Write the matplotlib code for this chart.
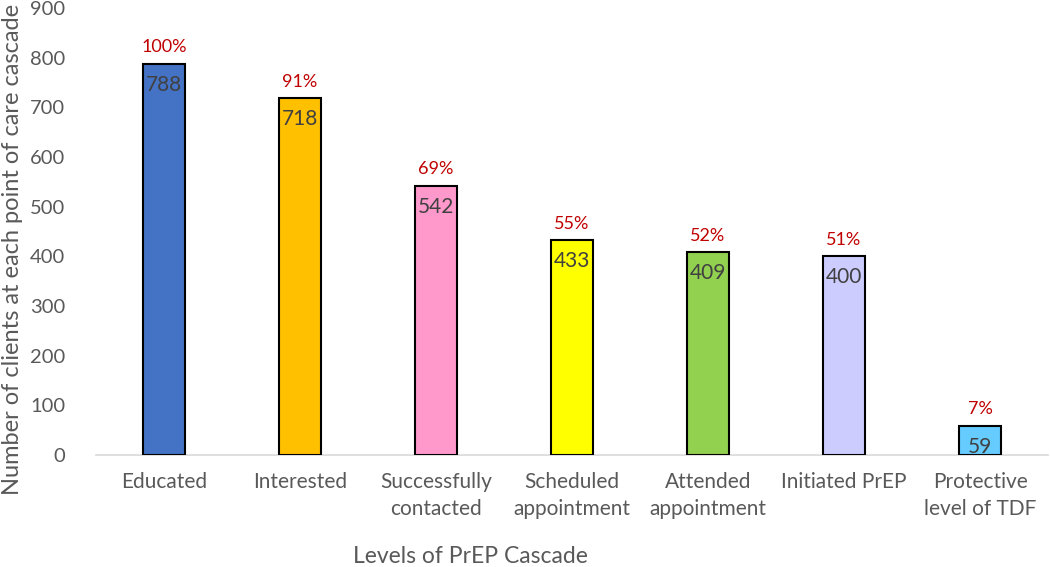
import matplotlib.pyplot as plt

plt.rcParams['font.family'] = ['Lato', 'DejaVu Sans']

# data
levels = ["Educated", "Interested", "Successfully\ncontacted", "Scheduled\nappointment",
          "Attended\nappointment", "Initiated PrEP", "Protective\nlevel of TDF"]
counts = [788, 718, 542, 433, 409, 400, 59]
percents = ["100%", "91%", "69%", "55%", "52%", "51%", "7%"]
colors = ["#4472C4", "#FFC000", "#FF99CC", "#FFFF00", "#92D050", "#CCCCFF", "#66CCFF"]

fig = plt.figure(figsize=(10.5, 5.67), dpi=100)
ax = fig.add_axes([0.0914, 0.1975, 0.9067, 0.7885])

x = range(len(levels))
bars = ax.bar(x, counts, width=0.31, color=colors, edgecolor="black", linewidth=1.5, zorder=3)

for b, c, p in zip(bars, counts, percents):
    cx = b.get_x() + b.get_width() / 2
    ax.annotate(p, (cx, c), xytext=(0, 6), textcoords="offset points",
                ha="center", va="bottom", fontsize=13, color="#C00000")
    ax.annotate(str(c), (cx, c), xytext=(0, -8), textcoords="offset points",
                ha="center", va="top", fontsize=15, color="#404040")

ax.set_xlim(-0.5, len(levels) - 0.5)
ax.set_ylim(0, 900)
ax.set_yticks(range(0, 901, 100))
ax.set_xticks(list(x))
ax.set_xticklabels(levels, fontsize=15, color="#595959", linespacing=1.45)
ax.tick_params(axis="y", labelsize=14.5, labelcolor="#595959", length=0, pad=22)
ax.tick_params(axis="x", length=0, pad=12)

for s in ["top", "right", "left"]:
    ax.spines[s].set_visible(False)
ax.spines["bottom"].set_color("#D9D9D9")
ax.spines["bottom"].set_linewidth(1.2)

fig.text(0.012, 0.56, "Number of clients at each point of care cascade", rotation=90,
         ha="center", va="center", fontsize=17, color="#595959")
fig.text(0.448, 0.018, "Levels of PrEP Cascade", ha="center", va="center",
         fontsize=16.5, color="#595959")

fig.savefig("out.png", dpi=100)
